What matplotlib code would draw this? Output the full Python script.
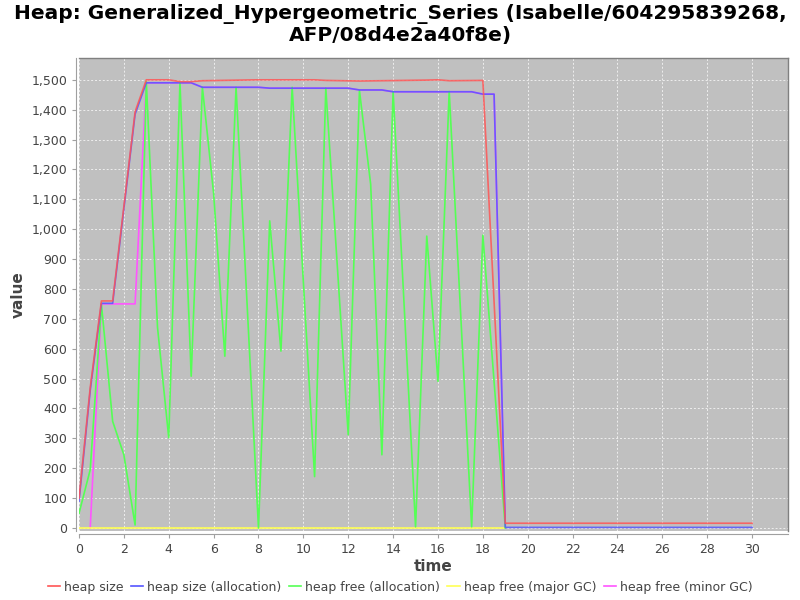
import matplotlib
matplotlib.use("Agg")
import matplotlib.pyplot as plt
from matplotlib.ticker import FuncFormatter, MultipleLocator
from matplotlib.lines import Line2D

# ---- data ----
t_size = [0, 0.5, 1, 1.5, 2.5, 3, 4, 4.5, 5, 5.5, 8, 10.5, 11, 12.5, 15.5, 16, 16.5, 18, 19, 30]
heap_size = [100, 470, 760, 760, 1393, 1500, 1500, 1494, 1494, 1497, 1500, 1500, 1498, 1496, 1499, 1500, 1497, 1498, 16, 16]

t_alloc = [0, 0.5, 1, 1.5, 2.5, 3, 4.5, 5, 5.5, 8, 8.5, 12, 12.5, 13.5, 14, 17.5, 18, 18.5, 19, 30]
heap_alloc = [90, 460, 752, 752, 1385, 1490, 1490, 1490, 1475, 1475, 1472, 1472, 1466, 1466, 1460, 1460, 1452, 1452, 2, 2]

t_free = [0, 0.5, 1, 1.5, 2, 2.5, 3, 3.5, 4, 4.5, 5, 5.5, 6, 6.5, 7, 8, 8.5, 9, 9.5,
          10.5, 11, 12, 12.5, 13, 13.5, 14, 15, 15.5, 16, 16.5, 17.5, 18, 19]
free_alloc = [49, 195, 748, 357, 245, 10, 1494, 671, 302, 1492, 508, 1475, 1120, 575, 1475, 0, 1028, 592, 1475,
              172, 1472, 312, 1464, 1150, 245, 1461, 4, 977, 491, 1461, 4, 980, 0]

t_major = [0, 19]
free_major = [0, 0]

t_minor = [0.5, 1, 2.5, 3, 4.5, 5, 5.5, 8, 8.5, 12, 12.5, 13.5, 14, 17.5, 18, 18.5, 19]
free_minor = [0, 750, 750, 1490, 1490, 1490, 1475, 1475, 1472, 1472, 1466, 1466, 1460, 1460, 1452, 1452, 0]

labels = ["heap size", "heap size (allocation)", "heap free (allocation)",
          "heap free (major GC)", "heap free (minor GC)"]
colors = ["#ff5555", "#5555ff", "#55ff55", "#ffff55", "#ff55ff"]

x_ticks = list(range(0, 31, 2))
title = "Heap: Generalized_Hypergeometric_Series (Isabelle/604295839268,\nAFP/08d4e2a40f8e)"

# ---- figure ----
fig = plt.figure(figsize=(8, 6), dpi=100)
ax = fig.add_axes([79 / 800, 1 - 531 / 600, (788 - 79) / 800, (531 - 58) / 600])
ax.set_facecolor("#c0c0c0")

series = [(t_size, heap_size), (t_alloc, heap_alloc), (t_free, free_alloc),
          (t_major, free_major), (t_minor, free_minor)]
# draw in reverse order so first series is on top
for i in reversed(range(len(series))):
    xs, ys = series[i]
    ax.plot(xs, ys, color=colors[i], lw=1.2, alpha=0.85 if i < 2 else 1.0, zorder=3 + (4 - i))

ax.set_xlim(0, 31.6)
ax.set_ylim(-10, 1573)
ax.set_xticks(x_ticks)
ax.yaxis.set_major_locator(MultipleLocator(100))
ax.yaxis.set_major_formatter(FuncFormatter(lambda v, p: f"{int(v):,}"))
ax.grid(True, color="#eeeeee", linestyle=(0, (2, 2)), linewidth=0.7)
ax.set_axisbelow(True)

for s in ["top", "right"]:
    ax.spines[s].set_color("#808080")
    ax.spines[s].set_linewidth(1.0)
for s in ["left", "bottom"]:
    ax.spines[s].set_color("#a0a0a0")
    ax.spines[s].set_position(("outward", 2))
ax.tick_params(colors="#a0a0a0", labelcolor="#444444", labelsize=9, length=3)

ax.set_xlabel("time", fontsize=11, fontweight="bold", color="#444444", labelpad=2)
ax.set_ylabel("value", fontsize=11, fontweight="bold", color="#444444", labelpad=4)

fig.suptitle(title, fontsize=14.5, fontweight="bold", y=0.993, va="top", linespacing=1.15)

handles = [Line2D([0], [0], color=c, lw=1.2) for c in colors]
fig.legend(handles, labels, loc="center", bbox_to_anchor=(0.5, 1 - 587 / 600), ncol=5,
           frameon=False, fontsize=9, handlelength=1.0, handletextpad=0.3, columnspacing=0.6,
           labelcolor="#444444")

fig.savefig("out.png", dpi=100)
